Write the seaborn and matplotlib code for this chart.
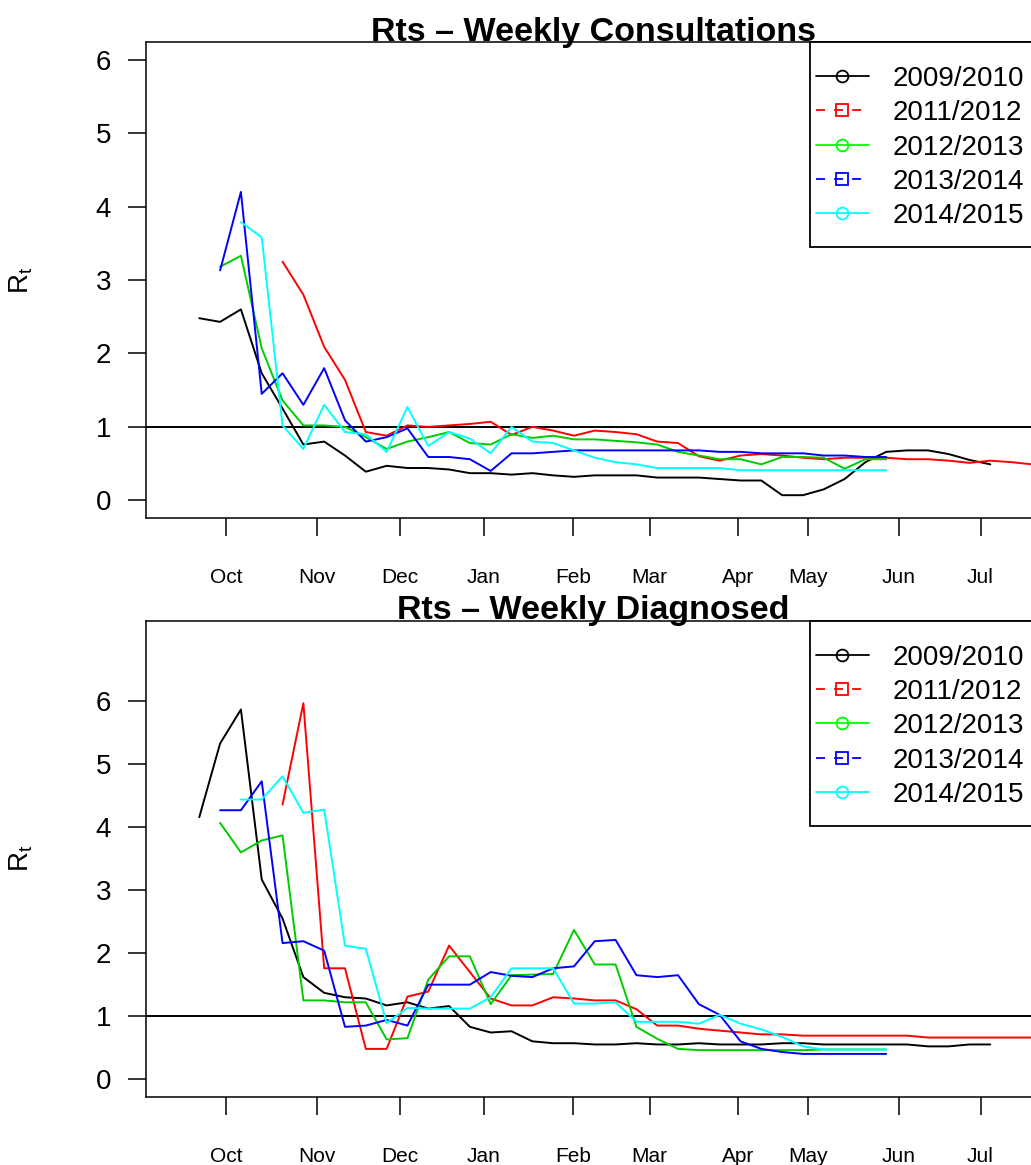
import numpy as np
import pandas as pd
import matplotlib
matplotlib.use("Agg")
import matplotlib.pyplot as plt
from matplotlib.lines import Line2D
from matplotlib.patches import Rectangle
import seaborn as sns

# ---- series metadata -------------------------------------------------------
seasons = ["2009/2010", "2011/2012", "2012/2013", "2013/2014", "2014/2015"]
line_colors = ["black", "red", "#00CD00", "blue", "cyan"]
legend_colors = ["black", "red", "#00FF00", "blue", "cyan"]
legend_styles = ["-", "--", "-", "--", "-"]
legend_markers = ["o", "s", "o", "s", "o"]
first_week = [0, 4, 1, 1, 2]          # week index of the first estimate per season

month_labels = ["Oct", "Nov", "Dec", "Jan", "Feb", "Mar", "Apr", "May", "Jun", "Jul"]
month_weeks = [1.30, 5.64, 9.65, 13.67, 17.95, 21.63, 25.90, 29.24, 33.61, 37.53]

# ---- Rt from weekly consultations ------------------------------------------
consult_2009 = [2.48, 2.43, 2.60, 1.73, 1.25, 0.76, 0.80, 0.61, 0.39, 0.47,
                0.44, 0.44, 0.42, 0.37, 0.37, 0.35, 0.37, 0.34, 0.32, 0.34,
                0.34, 0.34, 0.31, 0.31, 0.31, 0.29, 0.27, 0.27, 0.07, 0.07,
                0.15, 0.29, 0.52, 0.66, 0.68, 0.68, 0.63, 0.55, 0.49]
consult_2011 = [3.25, 2.80, 2.09, 1.64, 0.93, 0.88, 1.02, 1.00, 1.02, 1.04,
                1.07, 0.89, 1.00, 0.95, 0.88, 0.95, 0.93, 0.90, 0.80, 0.78,
                0.60, 0.54, 0.61, 0.63, 0.61, 0.58, 0.56, 0.58, 0.58, 0.58,
                0.56, 0.56, 0.54, 0.51, 0.54, 0.52, 0.49, 0.47]
consult_2012 = [3.18, 3.33, 2.07, 1.36, 1.02, 1.02, 1.00, 0.86, 0.70, 0.80,
                0.86, 0.93, 0.78, 0.76, 0.90, 0.85, 0.88, 0.83, 0.83, 0.81,
                0.79, 0.76, 0.66, 0.61, 0.56, 0.56, 0.49, 0.59, 0.59, 0.58,
                0.43, 0.56, 0.56]
consult_2013 = [3.13, 4.20, 1.45, 1.73, 1.30, 1.80, 1.09, 0.80, 0.86, 0.98,
                0.59, 0.59, 0.56, 0.40, 0.64, 0.64, 0.66, 0.68, 0.68, 0.68,
                0.68, 0.68, 0.68, 0.68, 0.66, 0.66, 0.64, 0.64, 0.64, 0.61,
                0.61, 0.59, 0.59]
consult_2014 = [3.79, 3.58, 1.02, 0.70, 1.30, 0.93, 0.90, 0.66, 1.27, 0.74,
                0.93, 0.84, 0.64, 1.00, 0.80, 0.78, 0.68, 0.58, 0.52, 0.49,
                0.44, 0.44, 0.44, 0.44, 0.41, 0.41, 0.41, 0.41, 0.41, 0.41,
                0.41, 0.41]

# ---- Rt from weekly diagnosed cases ----------------------------------------
diag_2009 = [4.16, 5.33, 5.87, 3.17, 2.55, 1.62, 1.37, 1.30, 1.28, 1.17,
             1.22, 1.12, 1.16, 0.83, 0.74, 0.76, 0.60, 0.57, 0.57, 0.55,
             0.55, 0.57, 0.55, 0.55, 0.57, 0.55, 0.55, 0.55, 0.57, 0.57,
             0.55, 0.55, 0.55, 0.55, 0.55, 0.52, 0.52, 0.55, 0.55]
diag_2011 = [4.36, 5.97, 1.76, 1.76, 0.48, 0.48, 1.31, 1.39, 2.12, 1.70,
             1.28, 1.17, 1.17, 1.30, 1.28, 1.25, 1.25, 1.11, 0.85, 0.85,
             0.80, 0.77, 0.74, 0.71, 0.71, 0.69, 0.69, 0.69, 0.69, 0.69,
             0.69, 0.66, 0.66, 0.66, 0.66, 0.66, 0.66, 0.66]
diag_2012 = [4.07, 3.60, 3.79, 3.87, 1.25, 1.25, 1.22, 1.22, 0.63, 0.65,
             1.58, 1.95, 1.95, 1.19, 1.65, 1.66, 1.67, 2.37, 1.82, 1.82,
             0.83, 0.64, 0.48, 0.46, 0.46, 0.46, 0.46, 0.46, 0.46, 0.47,
             0.47, 0.47, 0.47]
diag_2013 = [4.27, 4.27, 4.73, 2.16, 2.19, 2.04, 0.83, 0.85, 0.94, 0.85,
             1.50, 1.50, 1.50, 1.70, 1.64, 1.62, 1.76, 1.79, 2.19, 2.21,
             1.65, 1.62, 1.65, 1.19, 1.02, 0.60, 0.48, 0.43, 0.40, 0.40,
             0.40, 0.40, 0.40]
diag_2014 = [4.44, 4.44, 4.81, 4.23, 4.28, 2.12, 2.07, 0.89, 1.13, 1.12,
             1.12, 1.12, 1.30, 1.76, 1.76, 1.76, 1.20, 1.20, 1.22, 0.91,
             0.91, 0.91, 0.88, 1.02, 0.88, 0.79, 0.67, 0.52, 0.47, 0.47,
             0.47, 0.47]

consult_series = [consult_2009, consult_2011, consult_2012, consult_2013, consult_2014]
diag_series = [diag_2009, diag_2011, diag_2012, diag_2013, diag_2014]


def long_frame(series_list):
    parts = []
    for season, start, vals in zip(seasons, first_week, series_list):
        parts.append(pd.DataFrame({
            "week": start + np.arange(len(vals)),
            "Rt": vals,
            "season": season,
        }))
    return pd.concat(parts, ignore_index=True)


sns.set_style("white")
plt.rcParams["font.family"] = ["Liberation Sans", "DejaVu Sans"]
plt.rcParams["mathtext.fontset"] = "custom"
plt.rcParams["mathtext.rm"] = "Liberation Sans"
plt.rcParams["mathtext.it"] = "Liberation Sans"
for key in ["text.color", "axes.labelcolor", "xtick.color", "ytick.color",
            "axes.edgecolor"]:
    plt.rcParams[key] = "black"

fig = plt.figure(figsize=(10.31, 11.65), dpi=100)
ax_top = fig.add_axes([0.1416, 0.5554, 0.868, 0.4085])
ax_bot = fig.add_axes([0.1416, 0.0586, 0.868, 0.4086])

panels = [
    (ax_top, consult_series, "Rts \u2013 Weekly Consultations", (-0.24, 6.24)),
    (ax_bot, diag_series, "Rts \u2013 Weekly Diagnosed", (-0.28, 7.28)),
]

palette = dict(zip(seasons, line_colors))

for ax, series_list, title, ylim in panels:
    df = long_frame(series_list)
    sns.lineplot(data=df, x="week", y="Rt", hue="season", palette=palette,
                 estimator=None, sort=True, linewidth=1.4, legend=False, ax=ax)
    ax.axhline(1, color="black", linewidth=1.4, zorder=1)

    ax.set_xlim(-2.56, 40.43)
    ax.set_ylim(*ylim)
    ax.set_xticks(month_weeks)
    ax.set_xticklabels(month_labels, fontsize=15, color="black")
    ax.set_yticks(range(0, 7))
    ax.set_yticklabels([str(v) for v in range(0, 7)], fontsize=20, color="black")
    ax.tick_params(axis="both", direction="out", length=13, width=1.1,
                   color="black", labelcolor="black", bottom=True, left=True)
    ax.tick_params(axis="x", pad=23)
    ax.tick_params(axis="y", pad=12)
    ax.set_xlabel("")
    ax.set_ylabel(r"$\mathrm{R}_\mathrm{t}$", fontsize=20, labelpad=44,
                  color="black")
    ax.set_title(title, fontsize=24.5, fontweight="bold", pad=1, color="black")

    for side in ["top", "left", "bottom"]:
        ax.spines[side].set_visible(True)
        ax.spines[side].set_color("black")
        ax.spines[side].set_linewidth(1.1)
    ax.spines["right"].set_visible(False)

    # legend box
    ax.add_patch(Rectangle((0.742, 0.569), 0.4, 0.431, transform=ax.transAxes,
                           facecolor="white", edgecolor="black", linewidth=1.3,
                           clip_on=False, zorder=5))
    handles = [
        Line2D([0], [0], color=c, linestyle=ls, marker=m, markersize=8.5,
               markerfacecolor="none", markeredgecolor=c, markeredgewidth=1.3,
               linewidth=1.3, dashes=(5, 5) if ls == "--" else (None, None))
        for c, ls, m in zip(legend_colors, legend_styles, legend_markers)
    ]
    leg = ax.legend(handles, seasons, loc="upper left",
                    bbox_to_anchor=(0.7486, 0.950), frameon=False,
                    borderpad=0, borderaxespad=0, handlelength=1.9,
                    handletextpad=0.86, labelspacing=0.30, fontsize=20)
    for txt in leg.get_texts():
        txt.set_color("black")
    leg.set_zorder(6)

fig.savefig("out.png", dpi=100)
